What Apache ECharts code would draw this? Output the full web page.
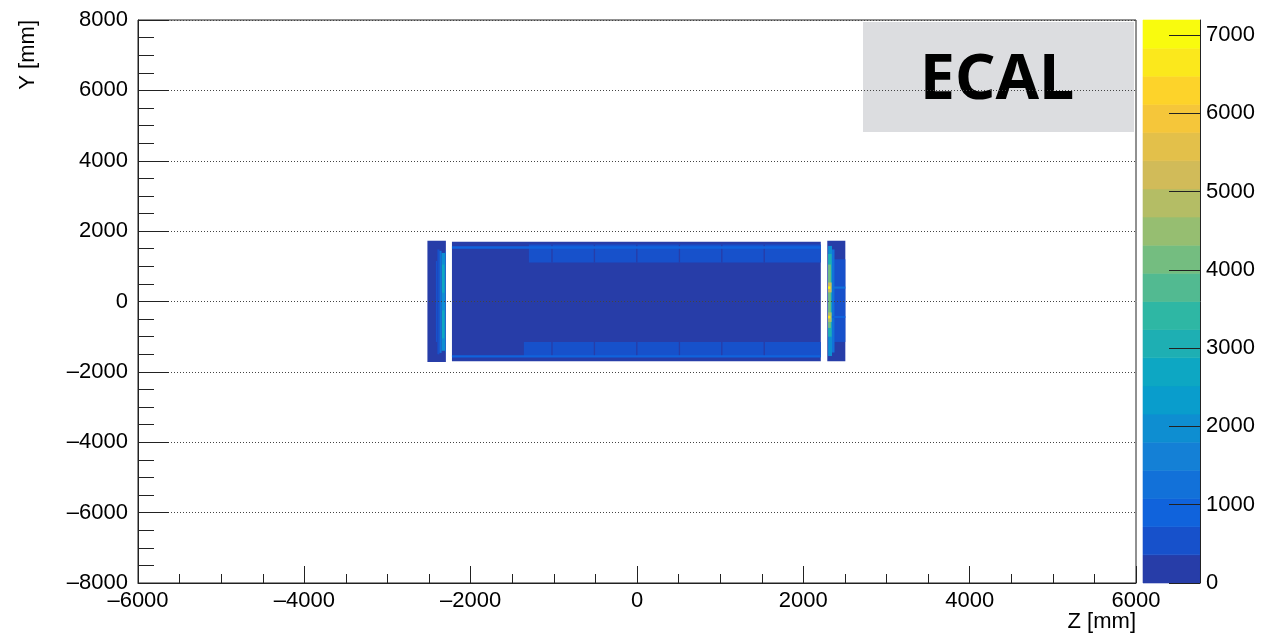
<!DOCTYPE html>
<html>
<head>
<meta charset="utf-8">
<title>ECAL hit map</title>
<script src="https://cdn.jsdelivr.net/npm/echarts@6/dist/echarts.min.js"></script>
<style>
  html, body { margin: 0; padding: 0; background: #fff; }
  #chart { width: 1263px; height: 635px; }
</style>
</head>
<body>
<div id="chart"></div>
<script>
// Hit map of the electromagnetic calorimeter in the Z-Y plane.
// Each cell: [zLow, zHigh, yLow, yHigh, entries] in mm.
const barrelCells = [
  [-2225, 2210, -1700, 1700, 150],
  [-1300, 2210, 1110, 1620, 520],
  [-1360, 2210, -1580, -1150, 520],
  [-1030, -1014, 1110, 1620, 260],
  [-520, -504, 1110, 1620, 260],
  [-10, 6, 1110, 1620, 260],
  [502, 518, 1110, 1620, 260],
  [1012, 1028, 1110, 1620, 260],
  [1522, 1538, 1110, 1620, 260],
  [-1030, -1014, -1580, -1150, 260],
  [-520, -504, -1580, -1150, 260],
  [-10, 6, -1580, -1150, 260],
  [502, 518, -1580, -1150, 260],
  [1012, 1028, -1580, -1150, 260],
  [1522, 1538, -1580, -1150, 260],
  [-2225, 2210, 1500, 1570, 780],
  [-2225, 2210, -1590, -1530, 780]
];

const leftEndcapCells = [
  [-2520, -2298, -1720, 1725, 150],
  [-2418, -2402, -1150, 1150, 420],
  [-2400, -2375, -1500, 1480, 700],
  [-2375, -2350, -1460, 1440, 1300],
  [-2350, -2305, -1400, 1380, 2000],
  [-2345, -2315, 250, 1050, 2600],
  [-2345, -2315, -1050, -250, 2600],
  [-2305, -2298, -1450, 1430, 1300]
];

const rightEndcapCells = [
  [2288, 2505, -1700, 1730, 150],
  [2370, 2505, -1150, 1200, 480],
  [2345, 2375, -1450, 1480, 1300],
  [2298, 2345, -1550, 1580, 2000],
  [2298, 2340, -1000, 1350, 3200],
  [2298, 2330, -750, 1050, 4300],
  [2340, 2505, 365, 425, 1100],
  [2340, 2505, -470, -410, 1000],
  [2298, 2340, 260, 540, 5300],
  [2298, 2325, 360, 430, 7190],
  [2298, 2340, -580, -310, 5000],
  [2298, 2325, -480, -405, 6500]
];

const colorbarTicks = [0, 1000, 2000, 3000, 4000, 5000, 6000, 7000];
const nLevels = 20;

// kBird palette stops
const birdStops = [0.0000, 0.1250, 0.2500, 0.3750, 0.5000, 0.6250, 0.7500, 0.8750, 1.0000];
const birdR = [0.2082, 0.0592, 0.0780, 0.0232, 0.1802, 0.5301, 0.8186, 0.9956, 0.9764];
const birdG = [0.1664, 0.3599, 0.5041, 0.6419, 0.7178, 0.7492, 0.7328, 0.7862, 0.9832];
const birdB = [0.5293, 0.8684, 0.8385, 0.7914, 0.6425, 0.4662, 0.3499, 0.1968, 0.0539];

function birdColor(f) {
  f = Math.max(0, Math.min(1, f));
  let i = 0;
  while (i < birdStops.length - 2 && f > birdStops[i + 1]) i++;
  const t = (f - birdStops[i]) / (birdStops[i + 1] - birdStops[i]);
  const ch = a => Math.round(255 * (a[i] + t * (a[i + 1] - a[i])));
  return 'rgb(' + ch(birdR) + ',' + ch(birdG) + ',' + ch(birdB) + ')';
}

const allCells = barrelCells.concat(leftEndcapCells, rightEndcapCells);
const zMax = Math.max.apply(null, allCells.map(c => c[4]));
const levelStep = zMax / nLevels;

function levelColor(k) {
  const idx = Math.floor((k + 0.99) * 255 / nLevels);
  return birdColor(idx / 254);
}
function countColor(v) {
  let k = Math.floor(v / levelStep);
  if (k >= nLevels) k = nLevels - 1;
  if (k < 0) k = 0;
  return levelColor(k);
}

// contour level bands for the colour scale: [x, low, high, level]
const levelBands = [];
for (let k = 0; k < nLevels; k++) levelBands.push([0, k * levelStep, (k + 1) * levelStep, k]);

const fontFamily = '"Liberation Sans", Arial, Helvetica, sans-serif';
const minusFmt = v => (v < 0 ? '\u2013' + Math.abs(v) : String(v));

const chart = echarts.init(document.getElementById('chart'), null, { renderer: 'canvas' });

chart.setOption({
  animation: false,
  backgroundColor: '#ffffff',
  textStyle: { fontFamily: fontFamily },
  grid: [
    { left: 138, right: 127, top: 20, bottom: 52, show: true, borderColor: '#222', borderWidth: 1, backgroundColor: 'transparent' },
    { left: 1143, right: 63, top: 20, bottom: 52 }
  ],
  xAxis: [
    {
      gridIndex: 0,
      type: 'value',
      min: -6000, max: 6000, interval: 2000,
      z: 5,
      axisLine: { show: true, onZero: false, lineStyle: { color: '#222', width: 1 } },
      axisTick: { show: true, inside: true, length: 17, lineStyle: { color: '#222', width: 1 } },
      minorTick: { show: true, splitNumber: 4, length: 9, lineStyle: { color: '#222', width: 1 } },
      axisLabel: { color: '#000', fontSize: 22, margin: 7, fontFamily: fontFamily, formatter: minusFmt },
      splitLine: { show: false }
    },
    {
      gridIndex: 1,
      type: 'value',
      min: 0, max: 1,
      show: false
    }
  ],
  yAxis: [
    {
      gridIndex: 0,
      type: 'value',
      min: -8000, max: 8000, interval: 2000,
      z: 5,
      axisLine: { show: true, onZero: false, lineStyle: { color: '#222', width: 1 } },
      axisTick: { show: true, inside: true, length: 31, lineStyle: { color: '#222', width: 1 } },
      minorTick: { show: true, splitNumber: 4, length: 16, lineStyle: { color: '#222', width: 1 } },
      axisLabel: { color: '#000', fontSize: 22, margin: 10, fontFamily: fontFamily, formatter: minusFmt },
      splitLine: { show: true, lineStyle: { color: '#444', width: 1, type: [1, 2] } }
    },
    {
      gridIndex: 1,
      type: 'value',
      position: 'right',
      min: 0, max: zMax,
      z: 5,
      axisLine: { show: true, onZero: false, lineStyle: { color: '#222', width: 1 } },
      axisTick: { show: true, inside: true, length: 31, customValues: colorbarTicks, lineStyle: { color: '#222', width: 1 } },
      axisLabel: { color: '#000', fontSize: 22, margin: 6, fontFamily: fontFamily, customValues: colorbarTicks, formatter: v => String(Math.round(v)) },
      splitLine: { show: false }
    }
  ],
  graphic: [
    {
      type: 'group',
      z: 20,
      children: [
        { type: 'rect', shape: { x: 863, y: 22, width: 271, height: 110 }, style: { fill: '#dcdde0' } },
        {
          type: 'text', x: 997, y: 81,
          style: { text: 'ECAL', fill: '#000', font: 'bold 63px "Noto Sans", "Open Sans", sans-serif', align: 'center', verticalAlign: 'middle' }
        }
      ]
    },
    {
      type: 'text', x: 28, y: 20, rotation: Math.PI / 2,
      style: { text: 'Y [mm]', fill: '#000', font: '22px ' + fontFamily, align: 'right', verticalAlign: 'middle' }
    },
    {
      type: 'text', x: 1136, y: 622,
      style: { text: 'Z [mm]', fill: '#000', font: '22px ' + fontFamily, align: 'right', verticalAlign: 'middle' }
    }
  ],
  series: [
    {
      type: 'custom',
      xAxisIndex: 0,
      yAxisIndex: 0,
      silent: true,
      clip: true,
      encode: { x: [0, 1], y: [2, 3] },
      data: allCells,
      renderItem: function (params, api) {
        const p0 = api.coord([api.value(0), api.value(3)]);
        const p1 = api.coord([api.value(1), api.value(2)]);
        return {
          type: 'rect',
          shape: { x: p0[0], y: p0[1], width: p1[0] - p0[0], height: p1[1] - p0[1] },
          style: { fill: countColor(api.value(4)) }
        };
      }
    },
    {
      type: 'custom',
      xAxisIndex: 1,
      yAxisIndex: 1,
      silent: true,
      encode: { x: 0, y: [1, 2] },
      data: levelBands,
      renderItem: function (params, api) {
        const p0 = api.coord([0, api.value(2)]);
        const p1 = api.coord([1, api.value(1)]);
        const c = levelColor(api.value(3));
        return {
          type: 'rect',
          shape: { x: p0[0], y: p0[1], width: p1[0] - p0[0], height: p1[1] - p0[1] },
          style: { fill: c, stroke: c, lineWidth: 0.6 }
        };
      }
    }
  ]
});
</script>
</body>
</html>
